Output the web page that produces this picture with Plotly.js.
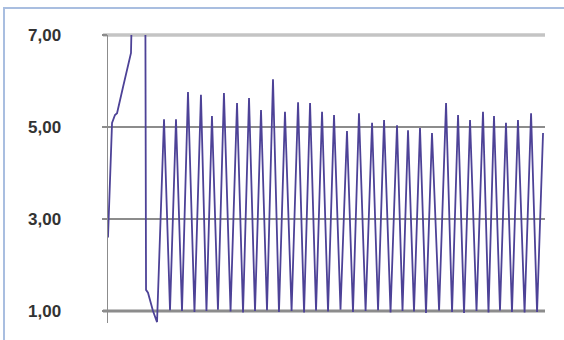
<!DOCTYPE html>
<html>
<head>
<meta charset="utf-8">
<script src="https://cdn.plot.ly/plotly-3.0.1.min.js"></script>
<style>
  html, body { margin: 0; padding: 0; background: #ffffff; }
  #wrap { position: relative; width: 564px; height: 340px; overflow: hidden; }
  #chart { position: absolute; left: 0; top: 0; width: 564px; height: 340px; }
  #frame { position: absolute; left: 3px; top: 7px; width: 600px; height: 400px;
           border-left: 2px solid #a9bee0; border-top: 2px solid #a9bee0; pointer-events: none; }
</style>
</head>
<body>
<div id="wrap">
  <div id="chart"></div>
  <div id="frame"></div>
</div>
<script>
// ---- data ----
// initial transient (time, value)
const startTimes  = [0.00, 0.33, 0.57, 0.74, 1.23, 1.55, 1.72, 1.88, 2.94, 3.11, 3.27, 3.68, 4.01];
const startValues = [2.60, 5.09, 5.26, 5.30, 5.87, 6.24, 6.41, 6.61, 20.0, 1.46, 1.40, 1.00, 0.76];

// oscillation peaks
const peakTimes  = [4.58, 5.56, 6.54, 7.60, 8.50, 9.48, 10.55, 11.53, 12.51, 13.49, 14.47, 15.54,
                    16.52, 17.50, 18.48, 19.54, 20.52, 21.59, 22.57, 23.63, 24.53, 25.51, 26.49,
                    27.64, 28.62, 29.60, 30.66, 31.56, 32.54, 33.52, 34.59, 35.57];
const peakValues = [5.17, 5.17, 5.76, 5.70, 5.24, 5.74, 5.52, 5.63, 5.37, 6.04, 5.33, 5.54,
                    5.52, 5.33, 5.26, 4.91, 5.30, 5.09, 5.15, 5.04, 4.93, 4.98, 4.87,
                    5.52, 5.26, 5.15, 5.33, 5.24, 5.09, 5.15, 5.30, 4.87];

// oscillation troughs
const troughTimes  = [5.07, 6.05, 7.07, 8.05, 8.99, 10.02, 11.04, 12.02, 13.00, 13.98, 15.01,
                      16.03, 17.01, 17.99, 19.01, 20.03, 21.06, 22.08, 23.10, 24.08, 25.02,
                      26.00, 27.07, 28.13, 29.11, 30.13, 31.11, 32.05, 33.03, 34.06, 35.08];
const troughValues = [1.02, 1.00, 0.98, 1.00, 1.03, 0.99, 0.97, 1.00, 1.02, 0.98, 1.00,
                      0.97, 1.01, 0.99, 1.03, 0.98, 1.00, 1.02, 0.97, 1.00, 0.99,
                      0.96, 1.01, 0.98, 0.96, 1.00, 0.97, 1.01, 0.98, 0.97, 0.98];

// axis ticks
const tickValues = [1, 3, 5, 7];
const tickLabels = ["1,00", "3,00", "5,00", "7,00"];
const yMin = 0.74, yMax = 7.0;
const xMin = 0, xMax = 35.73;

// ---- assemble series (peaks and troughs alternate) ----
const xs = startTimes.slice();
const ys = startValues.slice();
for (let i = 0; i < peakTimes.length; i++) {
  xs.push(peakTimes[i]); ys.push(peakValues[i]);
  if (i < troughTimes.length) { xs.push(troughTimes[i]); ys.push(troughValues[i]); }
}

const trace = {
  x: xs, y: ys, type: 'scatter', mode: 'lines',
  line: { color: '#4d4297', width: 1.8 },
  hoverinfo: 'skip'
};

// thick light lines at the outer ticks (1 and 7)
const frac = v => (v - yMin) / (yMax - yMin);
const outer = [tickValues[0], tickValues[tickValues.length - 1]];
const shapes = outer.map(v => ({
  type: 'line', xref: 'paper', yref: 'paper',
  x0: -5 / 437, x1: 1, y0: frac(v), y1: frac(v),
  line: { color: v === tickValues[tickValues.length - 1] ? '#c4c4c4' : '#b0b0b0', width: 3.5 },
  layer: 'below'
}));

const layout = {
  width: 564, height: 340,
  margin: { l: 108, r: 19, t: 35, b: 17 },
  paper_bgcolor: '#ffffff', plot_bgcolor: '#ffffff',
  showlegend: false,
  separators: ',.',
  font: { family: 'Liberation Sans, Arial, sans-serif', size: 18, color: '#333333' },
  xaxis: {
    range: [xMin, xMax], showgrid: false, zeroline: false, showline: false,
    showticklabels: false, ticks: ''
  },
  yaxis: {
    range: [yMin, yMax], tickmode: 'array', tickvals: tickValues, ticktext: tickLabels,
    showgrid: true, gridcolor: '#8c8c8c', gridwidth: 1.3,
    zeroline: false, showline: true, linecolor: '#8c8c8c', linewidth: 1.5,
    ticks: 'outside', ticklen: 5, tickcolor: '#8c8c8c', tickwidth: 1.3,
    ticklabelstandoff: 37,
    tickfont: { family: 'Liberation Sans, Arial, sans-serif', size: 17, color: '#333333', weight: 'bold' }
  },
  shapes: shapes
};

Plotly.newPlot('chart', [trace], layout, { staticPlot: true, displayModeBar: false });
</script>
</body>
</html>
